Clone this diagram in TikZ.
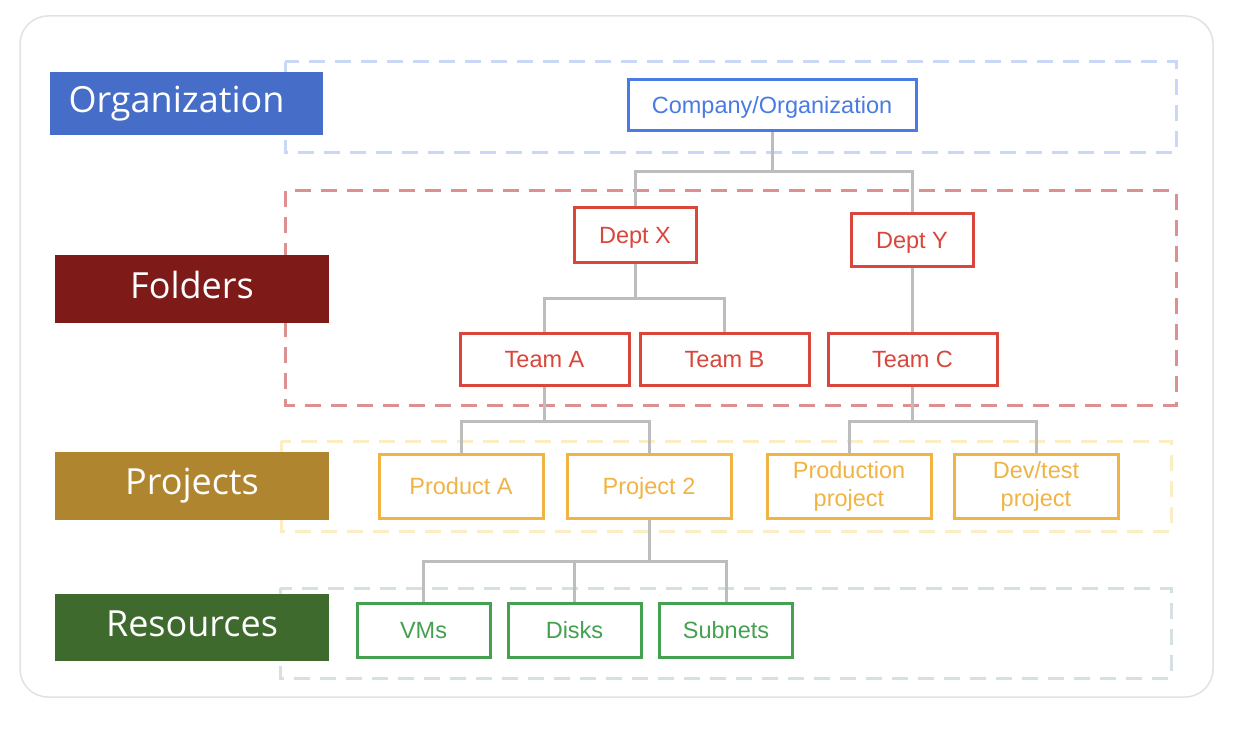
\documentclass[tikz,border=0pt]{standalone}
\usepackage{fontspec}
\newfontfamily\nodefont{Liberation Sans}
\newfontfamily\labelfont{Open Sans}
\definecolor{orgblue}{HTML}{466DC7}
\definecolor{compblue}{HTML}{4A7BE5}
\definecolor{folderred}{HTML}{7E1A17}
\definecolor{nodered}{HTML}{D9463B}
\definecolor{projbrown}{HTML}{B0852F}
\definecolor{nodeyellow}{HTML}{F0B445}
\definecolor{resgreen}{HTML}{3F6A2D}
\definecolor{nodegreen}{HTML}{45A050}
\definecolor{dashblue}{HTML}{C8D8F5}
\definecolor{dashred}{HTML}{DE9090}
\definecolor{dashyellow}{HTML}{FCEDC5}
\definecolor{dashgray}{HTML}{D5E0E3}
\definecolor{linkgray}{HTML}{BDBDBD}
\definecolor{framegray}{HTML}{E2E2E2}
\tikzset{
  tier/.style={draw=#1, line width=3pt, dash pattern=on 16pt off 10pt},
  levellabel/.style={fill=#1, draw=none, inner sep=0pt, text=white,
    font=\labelfont\fontsize{36}{40}\selectfont},
  box/.style={draw=#1, text=#1, fill=white, line width=3pt, inner sep=0pt,
    align=center, font=\nodefont\fontsize{23.5}{28}\selectfont},
  oneline/.style={text height=17pt, text depth=0pt},
  link/.style={draw=linkgray, line width=3pt}
}
\begin{document}
\begin{tikzpicture}[x=1pt, y=-1pt]
\useasboundingbox (0,0) rectangle (1234,730);
\fill[white] (0,0) rectangle (1234,730);
\draw[framegray, line width=1.5pt, rounded corners=28pt] (20,16) rectangle (1213,697);

% tier frames
\draw[tier=dashblue] (285,62) rectangle (1176,153);
\draw[tier=dashred] (285,191) rectangle (1176,405);
\draw[tier=dashyellow] (281,441) rectangle (1171,531);
\draw[tier=dashgray] (280,588) rectangle (1171,678);

% level labels
\node[levellabel=orgblue, minimum width=273pt, minimum height=63pt] (lorg) at (186.5,103.5) {\hspace*{-20pt}\raisebox{5pt}{Organization}};
\node[levellabel=folderred, minimum width=274pt, minimum height=68pt] (lfold) at (192,289) {\raisebox{8pt}{Folders}};
\node[levellabel=projbrown, minimum width=274pt, minimum height=68pt] (lproj) at (192,486) {\raisebox{8pt}{Projects}};
\node[levellabel=resgreen, minimum width=274pt, minimum height=67pt] (lres) at (192,627.5) {\raisebox{8pt}{Resources}};

% nodes
\node[box=compblue, oneline, minimum width=288pt, minimum height=51pt] (co) at (772,105.5) {Company/Organization};
\node[box=nodered, oneline, minimum width=122pt, minimum height=54pt] (dx) at (635,235) {Dept X};
\node[box=nodered, oneline, minimum width=122pt, minimum height=52pt] (dy) at (912,240) {Dept Y};
\node[box=nodered, oneline, minimum width=169pt, minimum height=52pt] (ta) at (544.5,359) {Team A};
\node[box=nodered, oneline, minimum width=169pt, minimum height=52pt] (tb) at (724.5,359) {Team B};
\node[box=nodered, oneline, minimum width=169pt, minimum height=52pt] (tc) at (912.5,359) {Team C};
\node[box=nodeyellow, oneline, minimum width=164pt, minimum height=64pt] (pa) at (461,486) {Product A};
\node[box=nodeyellow, oneline, minimum width=164pt, minimum height=64pt] (p2) at (649,486) {Project 2};
\node[box=nodeyellow, minimum width=164pt, minimum height=64pt] (pp) at (849,486) {Production\\project};
\node[box=nodeyellow, minimum width=164pt, minimum height=64pt] (pd) at (1036,486) {Dev/test\\project};
\node[box=nodegreen, oneline, minimum width=133pt, minimum height=54pt] (vm) at (423.5,630) {VMs};
\node[box=nodegreen, oneline, minimum width=133pt, minimum height=54pt] (dk) at (574.5,630) {Disks};
\node[box=nodegreen, oneline, minimum width=133pt, minimum height=54pt] (sn) at (726,630) {Subnets};

% connectors
\draw[link] (co.south) -- ++(0,39) -| (dx.north);
\draw[link] (co.south) -- ++(0,39) -| (dy.north);
\draw[link] (dx.south) -- ++(0,35) -| (ta.north);
\draw[link] (dx.south) -- ++(0,35) -| (tb.north);
\draw[link] (dy.south) -- (dy.south |- tc.north);
\draw[link] (ta.south) -- ++(0,35) -| (pa.north);
\draw[link] (ta.south) -- ++(0,35) -| (p2.north);
\draw[link] (tc.south) -- ++(0,35) -| (pp.north);
\draw[link] (tc.south) -- ++(0,35) -| (pd.north);
\draw[link] (p2.south) -- ++(0,42) -| (vm.north);
\draw[link] (p2.south) -- ++(0,42) -| (dk.north);
\draw[link] (p2.south) -- ++(0,42) -| (sn.north);
\end{tikzpicture}
\end{document}
